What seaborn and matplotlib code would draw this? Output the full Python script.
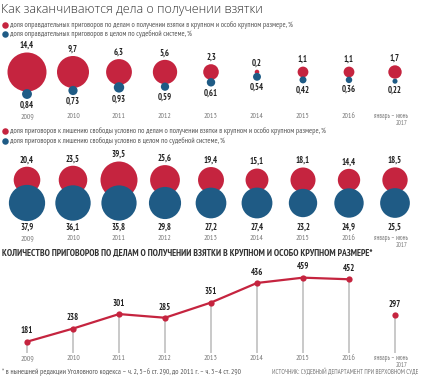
import numpy as np
import pandas as pd
import matplotlib
matplotlib.use("Agg")
import matplotlib.pyplot as plt
import seaborn as sns
from matplotlib import font_manager

# %% data
years = ["2009", "2010", "2011", "2012", "2013", "2014", "2015", "2016", "январь – июнь\n2017"]
acquit_bribe = [14.4, 9.7, 6.3, 5.6, 2.3, 0.2, 1.1, 1.1, 1.7]
acquit_all = [0.84, 0.73, 0.93, 0.59, 0.61, 0.54, 0.42, 0.36, 0.22]
cond_bribe = [20.4, 23.5, 39.5, 25.6, 19.4, 15.1, 18.1, 14.4, 18.5]
cond_all = [37.9, 36.1, 35.8, 29.8, 27.2, 27.4, 23.2, 24.9, 25.5]
verdicts = [181, 238, 301, 285, 351, 436, 459, 452, 297]

RED = "#c5243f"
BLUE = "#1f5b85"
DARK = "#222222"
GREY = "#777777"

# %% style
sns.set_theme(style="white")
names = {f.name for f in font_manager.fontManager.ttflist}
narrow = next(f for f in ["PT Sans Narrow", "Roboto Condensed", "Liberation Sans Narrow",
                          "Open Sans Condensed", "DejaVu Sans"] if f in names)
title_font = next(f for f in ["Open Sans", "PT Sans", "DejaVu Sans"] if f in names)
plt.rcParams["font.family"] = [narrow, "DejaVu Sans"]

W, H = 422, 380
X0, DX = 27, 46
PT = 72 / 100
xlim = (-X0 / DX, (W - X0) / DX)
idx = np.arange(len(years))

fig = plt.figure(figsize=(W / 100, H / 100), dpi=100)
ax = fig.add_axes([0, 0, 1, 1])
ax.set_xlim(*xlim)
ax.set_ylim(H, 0)
ax.axis("off")


def ptext(x, y, s, **kw):
    fig.text(x / W, 1 - y / H, s, **kw)


def fmt(v, d=1):
    return f"{v:.{d}f}".replace(".", ",")


# %% title + legends
ptext(1, 10, "Как заканчиваются дела о получении взятки", fontsize=9.0,
      family=[title_font, "DejaVu Sans"], fontweight="light", color="#333333", va="center")


def legend_row(y, color, s):
    ax.scatter([(4.5 - X0) / DX], [y], s=(6.5 * PT) ** 2, color=color, lw=0)
    ptext(10, y, s, fontsize=5.5, color="#555555", va="center")


legend_row(25, RED, "доля оправдательных приговоров по делам о получении взятки в крупном и особо крупном размере, %")
legend_row(34, BLUE, "доля оправдательных приговоров в целом по судебной системе, %")
legend_row(131, RED, "доля приговоров к лишению свободы условно по делам о получении взятки в крупном и особо крупном размере, %")
legend_row(141, BLUE, "доля приговоров к лишению свободы условно в целом по судебной системе, %")

# %% panel 1: acquittals
r_red1 = 19.5 * np.sqrt(np.array(acquit_bribe) / 14.4)
r_blue1 = 5.2 * np.sqrt(np.array(acquit_all) / 0.93)
p1 = pd.DataFrame({"i": idx, "red": acquit_bribe, "blue": acquit_all,
                   "yr": 72.0, "yb": 72 + r_red1 + 2.5})
sns.scatterplot(data=p1, x="i", y="yr", size="red", sizes=(0, (2 * 19.5 * PT) ** 2),
                size_norm=(0, 14.4), color=RED, linewidth=0, legend=False, ax=ax)
sns.scatterplot(data=p1, x="i", y="yb", size="blue", sizes=(0, (2 * 5.2 * PT) ** 2),
                size_norm=(0, 0.93), color=BLUE, linewidth=0, legend=False, ax=ax)
for i in idx:
    ax.text(i, 72 - r_red1[i] - 2.5, fmt(acquit_bribe[i]), ha="center", va="bottom",
            fontsize=6.2, fontweight="bold", color=DARK)
    ax.text(i, p1["yb"][i] + r_blue1[i] + 2, fmt(acquit_all[i], 2), ha="center", va="top",
            fontsize=6.2, fontweight="bold", color=DARK)

# %% panel 2: conditional sentences
r_red2 = 18.5 * np.sqrt(np.array(cond_bribe) / 39.5)
p2 = pd.DataFrame({"i": idx, "red": cond_bribe, "blue": cond_all, "yr": 180.0, "yb": 203.0})
sns.scatterplot(data=p2, x="i", y="yr", size="red", sizes=(0, (2 * 18.5 * PT) ** 2),
                size_norm=(0, 39.5), color=RED, linewidth=0, legend=False, ax=ax)
sns.scatterplot(data=p2, x="i", y="yb", size="blue", sizes=(0, (2 * 18.5 * PT) ** 2),
                size_norm=(0, 39.5), color=BLUE, linewidth=0, legend=False, ax=ax)
for i in idx:
    ax.text(i, 180 - r_red2[i] - 2.5, fmt(cond_bribe[i]), ha="center", va="bottom",
            fontsize=6.2, fontweight="bold", color=DARK)
    ax.text(i, 227, fmt(cond_all[i]), ha="center", va="center",
            fontsize=6.2, fontweight="bold", color=DARK)

# year labels for the three panels
for y in (117, 239, 359):
    for i, lab in enumerate(years):
        if i < 8:
            ax.text(i, y, lab, ha="center", va="center", fontsize=5.6, color=GREY)
        else:
            ax.text(i + 0.28, y - 3.5, lab, ha="right", va="top", fontsize=4.7,
                    color=GREY, multialignment="right", linespacing=0.9)

# %% panel 3: number of verdicts
ptext(2, 253, "КОЛИЧЕСТВО ПРИГОВОРОВ ПО ДЕЛАМ О ПОЛУЧЕНИИ ВЗЯТКИ В КРУПНОМ И ОСОБО КРУПНОМ РАЗМЕРЕ*",
      fontsize=6.8, fontweight="bold", color="#333333", va="center")

ax3 = fig.add_axes([0, (H - 353) / H, 1, 91 / H])
ax3.set_xlim(*xlim)
ax3.set_ylim(132, 527)
ax3.axis("off")
ax3.vlines(idx, 132, verdicts, color="#bbbbbb", lw=1.1, zorder=1)
sns.lineplot(x=idx[:8], y=verdicts[:8], color=RED, lw=1.6, marker="o", markersize=4.5,
             markeredgewidth=0, ax=ax3, zorder=3)
sns.scatterplot(x=idx[8:], y=verdicts[8:], color=RED, s=(4.5) ** 2, linewidth=0, ax=ax3, zorder=3)
for i, v in enumerate(verdicts):
    ax3.annotate(str(v), (i, v), xytext=(0, 4.5), textcoords="offset points",
                 ha="center", va="bottom", fontsize=6.2, fontweight="bold", color=DARK)

ptext(2, 372, "* в нынешней редакции Уголовного кодекса – ч. 2, 5–6 ст. 290, до 2011 г. – ч. 3–4 ст. 290",
      fontsize=5.4, color="#555555", va="center")
ptext(418, 372, "ИСТОЧНИК: СУДЕБНЫЙ ДЕПАРТАМЕНТ ПРИ ВЕРХОВНОМ СУДЕ",
      fontsize=4.7, color="#777777", va="center", ha="right")

fig.savefig("out.png", dpi=100)
